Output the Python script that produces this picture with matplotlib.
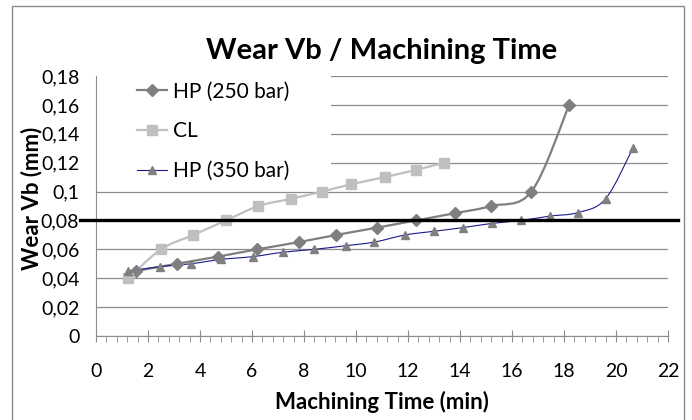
import matplotlib
matplotlib.use("Agg")
import matplotlib.pyplot as plt
import matplotlib.ticker as tck
from matplotlib.path import Path
from matplotlib.patches import PathPatch, Rectangle
from matplotlib.lines import Line2D

plt.rcParams['font.family'] = ['Lato', 'DejaVu Sans']

# data
hp250_t = [1.55, 3.1, 4.7, 6.2, 7.8, 9.25, 10.8, 12.3, 13.8, 15.2, 16.75, 18.2]
hp250_vb = [0.045, 0.05, 0.055, 0.06, 0.065, 0.07, 0.075, 0.08, 0.085, 0.09, 0.1, 0.16]

cl_t = [1.25, 2.5, 3.75, 5.0, 6.25, 7.5, 8.7, 9.8, 11.1, 12.3, 13.4]
cl_vb = [0.04, 0.06, 0.07, 0.08, 0.09, 0.095, 0.1, 0.105, 0.11, 0.115, 0.12]

hp350_t = [1.25, 2.45, 3.65, 4.8, 6.05, 7.2, 8.4, 9.6, 10.7, 11.9, 13.0, 14.1,
           15.25, 16.35, 17.45, 18.55, 19.6, 20.65]
hp350_vb = [0.045, 0.048, 0.05, 0.053, 0.055, 0.058, 0.06, 0.0625, 0.065, 0.07,
            0.0725, 0.075, 0.078, 0.08, 0.083, 0.0855, 0.095, 0.13]

limit_vb = 0.08


def smooth_path(xs, ys):
    # excel style smoothed line: bezier segments with catmull-rom control points
    pts = list(zip(xs, ys))
    verts = [pts[0]]
    codes = [Path.MOVETO]
    n = len(pts)
    for i in range(n - 1):
        p0 = pts[i - 1] if i > 0 else pts[i]
        p1 = pts[i]
        p2 = pts[i + 1]
        p3 = pts[i + 2] if i + 2 < n else pts[i + 1]
        c1 = (p1[0] + (p2[0] - p0[0]) / 6, p1[1] + (p2[1] - p0[1]) / 6)
        c2 = (p2[0] - (p3[0] - p1[0]) / 6, p2[1] - (p3[1] - p1[1]) / 6)
        verts += [c1, c2, p2]
        codes += [Path.CURVE4] * 3
    return Path(verts, codes)


fig = plt.figure(figsize=(6.92, 4.2), dpi=100)
ax = fig.add_axes([0.1387, 0.2, 0.8266, 0.619])

series = [
    (hp250_t, hp250_vb, "HP (250 bar)", "#7f7f7f", 1.6, "D", 6, "#7f7f7f"),
    (cl_t, cl_vb, "CL", "#bfbfbf", 1.6, "s", 7, "#bfbfbf"),
    (hp350_t, hp350_vb, "HP (350 bar)", "#1a1a8c", 0.8, "^", 5.5, "#808080"),
]

handles = []
for xs, ys, name, lc, lw, mk, ms, mc in series:
    ax.add_patch(PathPatch(smooth_path(xs, ys), facecolor="none", edgecolor=lc,
                           lw=lw, zorder=3))
    ax.plot(xs, ys, linestyle="none", marker=mk, markersize=ms, color=mc,
            markeredgecolor=mc, zorder=4)
    handles.append(Line2D([0], [0], color=lc, lw=lw, marker=mk, markersize=ms,
                          markerfacecolor=mc, markeredgecolor=mc))

# wear limit line, runs past the plot area
ax.axhline(limit_vb, xmin=-0.028, xmax=1.018, color="black", lw=2.4,
           clip_on=False, zorder=5)

ax.set_xlim(0, 22)
ax.set_ylim(0, 0.18)
ax.xaxis.set_major_locator(tck.MultipleLocator(2))
ax.xaxis.set_minor_locator(tck.MultipleLocator(0.4))
ax.yaxis.set_major_locator(tck.MultipleLocator(0.02))
ax.yaxis.set_major_formatter(tck.FuncFormatter(
    lambda v, p: ("%g" % round(v, 4)).replace(".", ",")))

ax.grid(True, axis="y", color="#8c8c8c", lw=0.9)
ax.set_axisbelow(True)
for s in ["top", "right"]:
    ax.spines[s].set_visible(False)
ax.spines["left"].set_color("#8c8c8c")
ax.spines["bottom"].set_color("#8c8c8c")
ax.tick_params(axis="y", length=0, pad=12, labelsize=14)
ax.tick_params(axis="x", which="major", direction="inout", length=9, color="#8c8c8c",
               pad=15, labelsize=14)
ax.tick_params(axis="x", which="minor", direction="out", length=4, color="#8c8c8c")

ax.set_title("Wear Vb / Machining Time", fontsize=21, fontweight="bold", pad=12)
ax.set_xlabel("Machining Time (min)", fontsize=16, fontweight="bold", labelpad=8)
ax.set_ylabel("Wear Vb (mm)", fontsize=16, fontweight="bold")
ax.yaxis.set_label_coords(-0.094, 0.53)

# white area behind the legend hides the upper gridlines
ax.add_patch(Rectangle((0, 0.105), 9.05, 0.08, facecolor="white", edgecolor="none",
                       zorder=1.5, clip_on=False))

leg = ax.legend(handles, [s[2] for s in series], loc="upper left",
                bbox_to_anchor=(0.0717, 0.979), frameon=False, fontsize=15,
                labelspacing=0.95, handlelength=1.45, handletextpad=0.3,
                borderaxespad=0, borderpad=0)
leg.set_zorder(2)

# chart border
fig.patches.append(Rectangle((0.0173, -0.01), 0.971, 0.996, transform=fig.transFigure,
                             fill=False, edgecolor="#8c8c8c", lw=1))

fig.savefig("out.png", dpi=100)
